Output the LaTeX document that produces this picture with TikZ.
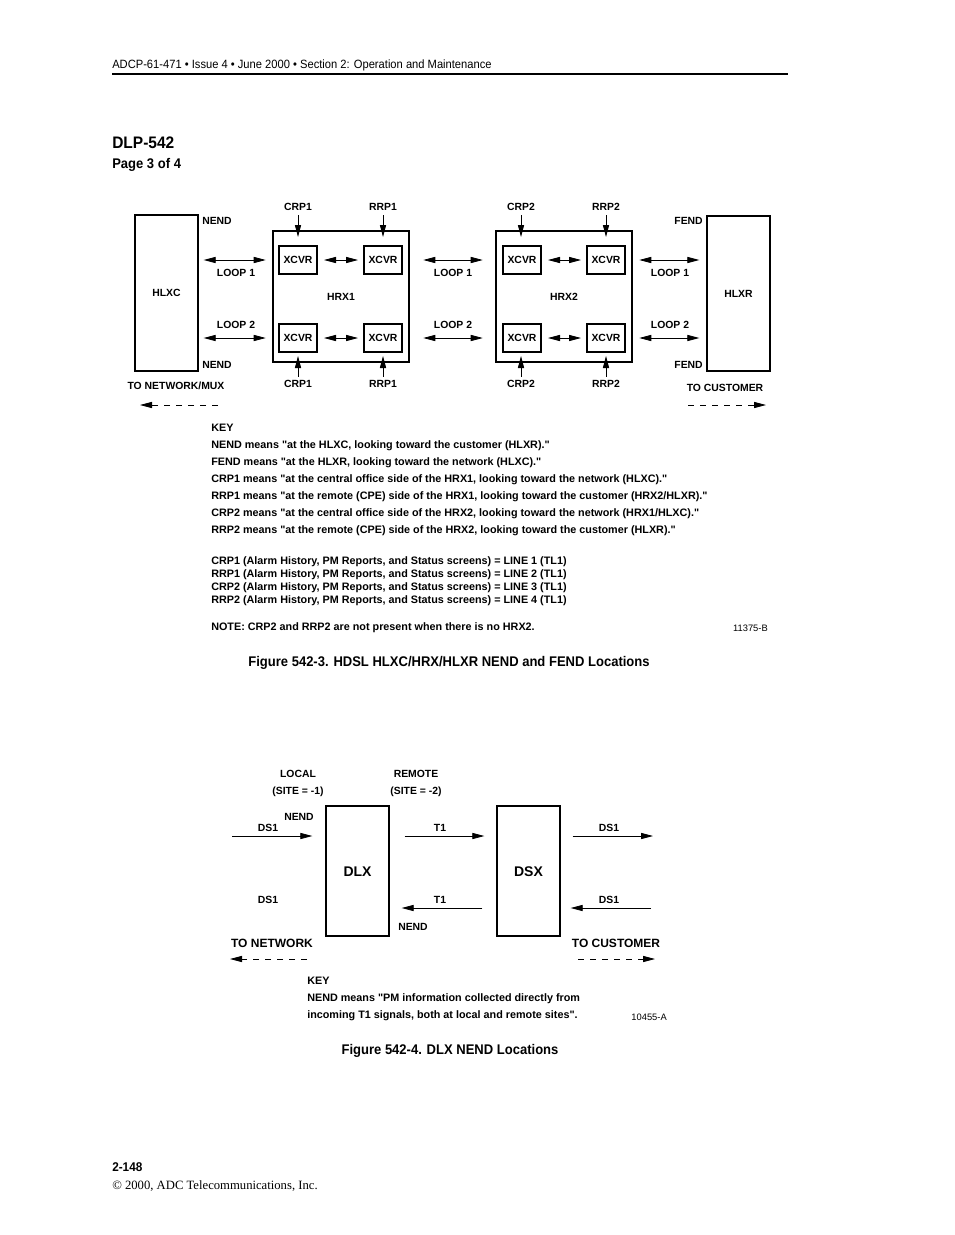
\documentclass[tikz,border=0pt]{standalone}
\usepackage{fontspec}
\setmainfont{Liberation Sans}
\newfontfamily\condfont[FakeStretch=0.93]{Liberation Sans}
\newfontfamily\timesfont{Liberation Serif}
\usetikzlibrary{arrows.meta,positioning}

\begin{document}
\begin{tikzpicture}[x=0.75pt, y=-0.75pt,
  txt/.style={inner sep=0pt, text height=5.6pt, text depth=0pt, font=\fontsize{7.8}{9}\selectfont\bfseries},
  keyline/.style={inner sep=0pt, anchor=west, text height=5.8pt, text depth=0pt, font=\fontsize{8.1}{9}\selectfont\bfseries},
  cond/.style={inner sep=0pt, anchor=base west, font=\condfont\fontsize{9}{11}\selectfont},
  condbf/.style={inner sep=0pt, font=\condfont\bfseries\fontsize{10.5}{12}\selectfont},
  unitbox/.style={rectangle, draw, line width=1pt, inner sep=0pt, minimum width=47.25pt, txt},
  hrxbox/.style={rectangle, draw, line width=1.9pt, inner sep=0pt, minimum width=102pt, minimum height=98.25pt, txt},
  xcvr/.style={rectangle, draw, line width=1.5pt, inner sep=0pt, minimum width=28.5pt, minimum height=21pt, txt},
  arr/.style={-{Triangle[length=9pt,width=4.6pt]}, line width=0.6pt},
  dblarr/.style={{Triangle[length=9pt,width=4.6pt]}-{Triangle[length=9pt,width=4.6pt]}, line width=0.6pt},
  dirarr/.style={arr, dash pattern=on 4.5pt off 4.5pt}
]
\useasboundingbox (0,0) rectangle (954,1235);

% page header
\node[cond] (hdr) at (112,68) {ADCP-61-471 • Issue 4 • June 2000 • Section 2: Operation and Maintenance};
\draw[line width=1.1pt] (112,74) -- (788,74);
\node[condbf, anchor=base west, font=\condfont\bfseries\fontsize{12.5}{14}\selectfont] (dlp) at (112,148) {DLP-542};
\node[condbf, anchor=base west] (page) at (112,168) {Page 3 of 4};

% Figure 542-3
\node[unitbox, minimum height=117pt] (hlxc) at (166.5,293) {HLXC};
\node[hrxbox] (hrx1) at (341,296.5) {HRX1};
\node[hrxbox] (hrx2) at (564,296.5) {HRX2};
\node[unitbox, minimum height=116.25pt] (hlxr) at (738.5,293.5) {HLXR};

\node[xcvr] (xa1) at (298,260) {XCVR};
\node[xcvr] (xb1) at (383,260) {XCVR};
\node[xcvr] (xa2) at (298,338) {XCVR};
\node[xcvr] (xb2) at (383,338) {XCVR};
\node[xcvr] (xc1) at (522,260) {XCVR};
\node[xcvr] (xd1) at (606,260) {XCVR};
\node[xcvr] (xc2) at (522,338) {XCVR};
\node[xcvr] (xd2) at (606,338) {XCVR};

\draw[dblarr, shorten <=4.5pt, shorten >=3.75pt] (xa1) -- (xb1);
\draw[dblarr, shorten <=4.5pt, shorten >=3.75pt] (xa2) -- (xb2);
\draw[dblarr, shorten <=4.5pt, shorten >=3.75pt] (xc1) -- (xd1);
\draw[dblarr, shorten <=4.5pt, shorten >=3.75pt] (xc2) -- (xd2);

% loops
\draw[dblarr, shorten <=3.75pt, shorten >=4.5pt] (hlxc.east |- xa1) -- (hrx1.west |- xa1);
\draw[dblarr, shorten <=3.75pt, shorten >=4.5pt] (hlxc.east |- xa2) -- (hrx1.west |- xa2);
\draw[dblarr, shorten <=9.75pt, shorten >=9pt] (hrx1.east |- xb1) -- (hrx2.west |- xc1);
\draw[dblarr, shorten <=9.75pt, shorten >=9pt] (hrx1.east |- xb2) -- (hrx2.west |- xc2);
\draw[dblarr, shorten <=4.5pt, shorten >=5.25pt] (hrx2.east |- xd1) -- (hlxr.west |- xd1);
\draw[dblarr, shorten <=4.5pt, shorten >=5.25pt] (hrx2.east |- xd2) -- (hlxr.west |- xd2);
\node[txt] (loopa1) at (236,273) {LOOP 1};
\node[txt] (loopa2) at (236,325) {LOOP 2};
\node[txt] (loopb1) at (453,273) {LOOP 1};
\node[txt] (loopb2) at (453,325) {LOOP 2};
\node[txt] (loopc1) at (670,273) {LOOP 1};
\node[txt] (loopc2) at (670,325) {LOOP 2};

\node[txt, anchor=west] (nendt) at (202,221) {NEND};
\node[txt, anchor=west] (nendb) at (202,365) {NEND};
\node[txt, anchor=east] (fendt) at (703,221) {FEND};
\node[txt, anchor=east] (fendb) at (703,365) {FEND};

% monitoring points
\node[txt] (crp1t) at (298,207) {CRP1};
\node[txt] (rrp1t) at (383,207) {RRP1};
\node[txt] (crp2t) at (521,207) {CRP2};
\node[txt] (rrp2t) at (606,207) {RRP2};
\node[txt] (crp1b) at (298,384) {CRP1};
\node[txt] (rrp1b) at (383,384) {RRP1};
\node[txt] (crp2b) at (521,384) {CRP2};
\node[txt] (rrp2b) at (606,384) {RRP2};
\draw[arr, shorten <=3pt, shorten >=6pt] (crp1t.south) -- (xa1.north);
\draw[arr, shorten <=3pt, shorten >=6pt] (rrp1t.south) -- (xb1.north);
\draw[arr, shorten <=3pt, shorten >=6pt] (crp2t.south) -- (crp2t.south |- xc1.north);
\draw[arr, shorten <=3pt, shorten >=6pt] (rrp2t.south) -- (xd1.north);
\draw[arr, shorten <=2.5pt, shorten >=2.25pt] (crp1b.north) -- (xa2.south);
\draw[arr, shorten <=2.5pt, shorten >=2.25pt] (rrp1b.north) -- (xb2.south);
\draw[arr, shorten <=2.5pt, shorten >=2.25pt] (crp2b.north) -- (crp2b.north |- xc2.south);
\draw[arr, shorten <=2.5pt, shorten >=2.25pt] (rrp2b.north) -- (xd2.south);

% directions
\node[txt] (tonet) at (176,386) {TO NETWORK/MUX};
\node[txt] (tocust) at (725,388) {TO CUSTOMER};
\coordinate (netS) at (218,405);
\coordinate (netE) at (140,405);
\coordinate (custS) at (688,405);
\coordinate (custE) at (766,405);
\draw[dirarr] (netS) -- (netE);
\draw[dirarr] (custS) -- (custE);

% key
\node[keyline] (key1) at (211,428) {KEY};
\node[keyline] (k1) at (211,445) {NEND means \textquotedbl at the HLXC, looking toward the customer (HLXR).\textquotedbl};
\node[keyline] (k2) at (211,462) {FEND means \textquotedbl at the HLXR, looking toward the network (HLXC).\textquotedbl};
\node[keyline] (k3) at (211,479) {CRP1 means \textquotedbl at the central office side of the HRX1, looking toward the network (HLXC).\textquotedbl};
\node[keyline] (k4) at (211,496) {RRP1 means \textquotedbl at the remote (CPE) side of the HRX1, looking toward the customer (HRX2/HLXR).\textquotedbl};
\node[keyline] (k5) at (211,513) {CRP2 means \textquotedbl at the central office side of the HRX2, looking toward the network (HRX1/HLXC).\textquotedbl};
\node[keyline] (k6) at (211,530) {RRP2 means \textquotedbl at the remote (CPE) side of the HRX2, looking toward the customer (HLXR).\textquotedbl};
\node[keyline] (l1) at (211,561) {CRP1 (Alarm History, PM Reports, and Status screens) = LINE 1 (TL1)};
\node[keyline] (l2) at (211,574) {RRP1 (Alarm History, PM Reports, and Status screens) = LINE 2 (TL1)};
\node[keyline] (l3) at (211,587) {CRP2 (Alarm History, PM Reports, and Status screens) = LINE 3 (TL1)};
\node[keyline] (l4) at (211,600) {RRP2 (Alarm History, PM Reports, and Status screens) = LINE 4 (TL1)};
\node[keyline] (note) at (211,627) {NOTE: CRP2 and RRP2 are not present when there is no HRX2.};
\node[keyline, anchor=east, font=\fontsize{7}{8}\selectfont] (id1) at (768,628) {11375-B};

\node[condbf] (cap1) at (449,663) {Figure 542-3. HDSL HLXC/HRX/HLXR NEND and FEND Locations};

% Figure 542-4
\node[unitbox, minimum height=97.5pt, font=\fontsize{10.5}{12}\selectfont\bfseries, text height=7.5pt] (dlx) at (357.5,871) {DLX};
\node[unitbox, minimum height=97.5pt, font=\fontsize{10.5}{12}\selectfont\bfseries, text height=7.5pt] (dsx) at (528.5,871) {DSX};

\node[txt] (local) at (298,774) {LOCAL};
\node[txt] (site1) at (298,791) {(SITE = -1)};
\node[txt] (remote) at (416,774) {REMOTE};
\node[txt] (site2) at (416,791) {(SITE = -2)};
\node[txt] (nendl) at (299,817) {NEND};
\node[txt] (nendr) at (413,927) {NEND};

\node[txt] (ds1a) at (268,828) {DS1};
\node[txt] (t1a) at (440,828) {T1};
\node[txt] (ds1b) at (609,828) {DS1};
\node[txt] (ds1c) at (268,900) {DS1};
\node[txt] (t1b) at (440,900) {T1};
\node[txt] (ds1d) at (609,900) {DS1};

\coordinate (inL) at (232,836);
\coordinate (outR) at (653,836);
\coordinate (inR) at (651,908);
\draw[arr, shorten >=9.75pt] (inL) -- (inL -| dlx.west);
\draw[arr, shorten <=11.25pt, shorten >=9pt] (dlx.east |- inL) -- (dsx.west |- inL);
\draw[arr, shorten <=9pt] (dsx.east |- outR) -- (outR);
\draw[arr, shorten <=10.5pt, shorten >=9pt] (dsx.west |- inR) -- (dlx.east |- inR);
\draw[arr, shorten >=7.5pt] (inR) -- (inR -| dsx.east);

\node[txt, font=\fontsize{9}{11}\selectfont\bfseries, text height=6.5pt] (tonet2) at (272,943) {TO NETWORK};
\node[txt, font=\fontsize{9}{11}\selectfont\bfseries, text height=6.5pt] (tocust2) at (616,943) {TO CUSTOMER};
\coordinate (net2S) at (307,959);
\coordinate (net2E) at (230,959);
\coordinate (cust2S) at (578,959);
\coordinate (cust2E) at (655,959);
\draw[dirarr] (net2S) -- (net2E);
\draw[dirarr] (cust2S) -- (cust2E);

\node[keyline] (key2) at (307,981) {KEY};
\node[keyline] (m1) at (307,998) {NEND means \textquotedbl PM information collected directly from};
\node[keyline] (m2) at (307,1015) {incoming T1 signals, both at local and remote sites\textquotedbl.};
\node[keyline, anchor=east, font=\fontsize{7}{8}\selectfont] (id2) at (667,1017) {10455-A};

\node[condbf] (cap2) at (450,1051) {Figure 542-4. DLX NEND Locations};

% page footer
\node[condbf, anchor=base west, font=\condfont\bfseries\fontsize{9.5}{11}\selectfont] (pgno) at (112,1171) {2-148};
\node[inner sep=0pt, anchor=base west, font=\timesfont\fontsize{9.5}{11}\selectfont] (copy) at (112,1189) {© 2000, ADC Telecommunications, Inc.};
\end{tikzpicture}
\end{document}
